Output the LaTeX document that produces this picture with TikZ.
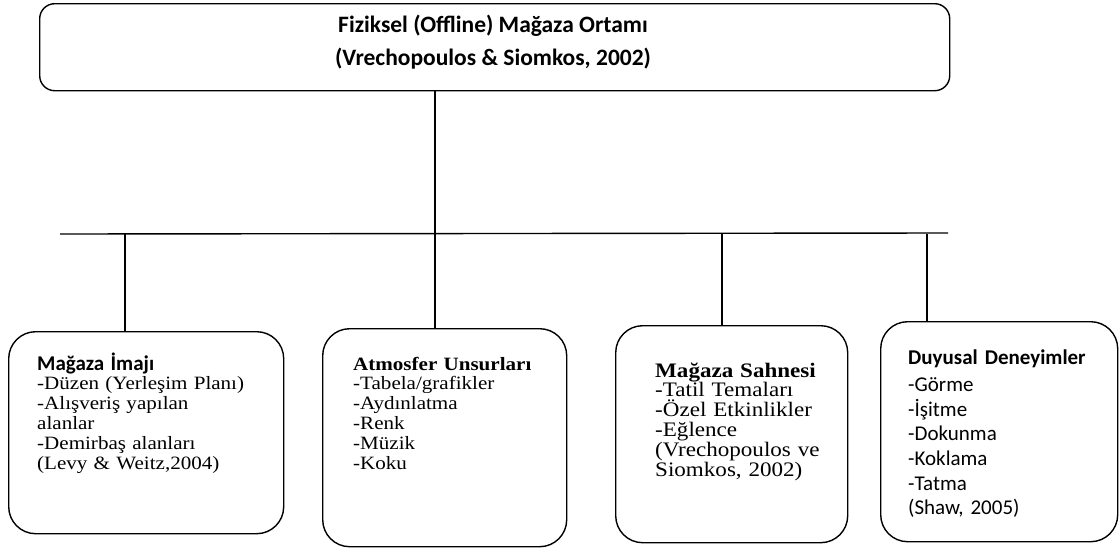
\documentclass[tikz,border=0pt]{standalone}
\usepackage{fontspec}
\setmainfont{Liberation Serif}
\newfontfamily\calibri{Carlito}
\newfontfamily\wideserif[FakeStretch=1.12]{Liberation Serif}
\begin{document}
\begin{tikzpicture}[x=1pt,y=-1pt,
  frame/.style={draw, line width=1.4pt, rounded corners=15pt, inner sep=0pt, anchor=north west},
  card/.style={draw, line width=1.4pt, rounded corners=27pt, inner sep=0pt, anchor=north west},
  link/.style={line width=1.4pt},
  serifbody/.style={anchor=base west, inner sep=0pt, align=left, text width=260pt,
    font=\wideserif\fontsize{18.8}{19.8}\selectfont},
  sansbody/.style={anchor=base west, inner sep=0pt, align=left, text width=220pt,
    font=\calibri\fontsize{21}{24.6}\selectfont}]
\useasboundingbox (0,0) rectangle (1119,549);

% top box
\node[frame, minimum width=910pt, minimum height=87pt] (top) at (39,3) {};
\node[align=center, inner sep=0pt, font=\calibri\bfseries\fontsize{23.5}{33}\selectfont] (toptext) at (493,42)
  {Fiziksel (Offline) Mağaza Ortamı\\(Vrechopoulos \& Siomkos, 2002)};

% branch boxes
\node[card, minimum width=275pt, minimum height=202pt] (b1) at (8,331) {};
\node[card, minimum width=244pt, minimum height=218pt] (b2) at (322,328) {};
\node[card, minimum width=232pt, minimum height=217pt] (b3) at (615,325) {};
\node[card, minimum width=237pt, minimum height=220pt] (b4) at (880,321) {};

% box texts
\node[serifbody] (t1) at (37,370)
  {{\calibri\bfseries\fontsize{21}{19.8}\selectfont Mağaza İmajı}\\
   -Düzen (Yerleşim Planı)\\
   -Alışveriş yapılan\\
   alanlar\\
   -Demirbaş alanları\\
   (Levy \& Weitz,2004)};
\node[serifbody] (t2) at (353,370)
  {\textbf{Atmosfer Unsurları}\\
   -Tabela/grafikler\\
   -Aydınlatma\\
   -Renk\\
   -Müzik\\
   -Koku};
\node[serifbody, font=\wideserif\fontsize{20.6}{19.8}\selectfont] (t3) at (655,377)
  {\textbf{Mağaza Sahnesi}\\
   -Tatil Temaları\\
   -Özel Etkinlikler\\
   -Eğlence\\
   (Vrechopoulos ve\\
   Siomkos, 2002)};
\node[sansbody] (t4) at (908,364)
  {\textbf{Duyusal Deneyimler}\\[3pt]
   -Görme\\
   -İşitme\\
   -Dokunma\\
   -Koklama\\
   -Tatma\\
   (Shaw, 2005)};

% connector tree
\coordinate (hl) at (60,234);
\coordinate (hr) at (948,233);
\coordinate (j1) at (125,234);
\coordinate (j2) at (435,233);
\coordinate (j3) at (722,234);
\coordinate (j4) at (927,234);

\draw[link] (hl) -- (hr);
\draw[link] (top.south -| j2) -- (b2.north -| j2);
\draw[link] (j1) -- (b1.north -| j1);
\draw[link] (j3) -- (b3.north -| j3);
\draw[link] (j4) -- (b4.north -| j4);
\end{tikzpicture}
\end{document}
